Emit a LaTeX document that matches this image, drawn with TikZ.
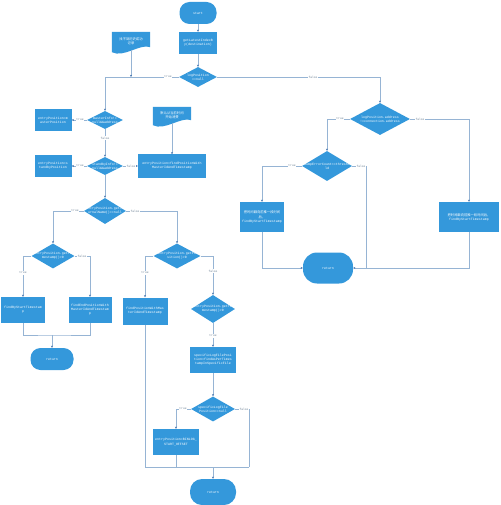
\documentclass[tikz,border=0pt]{standalone}
\usepackage{fontspec}
\setmainfont{Liberation Mono}
\newfontfamily\cjk{Noto Sans CJK SC}
\usetikzlibrary{shapes.geometric,arrows.meta,backgrounds,calc}
\definecolor{fb}{RGB}{52,152,219}
\definecolor{ln}{RGB}{150,180,212}
\definecolor{lt}{RGB}{110,130,150}
\definecolor{ah}{RGB}{60,110,170}
\tikzset{
  every node/.style={font=\fontsize{3.3}{4.1}\selectfont, text=white},
  box/.style={rectangle, fill=fb, inner sep=0.5pt, align=center},
  term/.style={rectangle, fill=fb, align=center, inner sep=0pt},
  dia/.style={diamond, fill=fb, inner sep=0pt},
  dtext/.style={text=white, align=center, inner sep=0pt},
  doc/.style={rectangle, align=center, inner sep=0pt},
  lbl/.style={fill=white, text=lt, inner sep=0.5pt, font=\fontsize{3}{3.5}\selectfont},
  con/.style={draw=ln, line width=0.5pt, -{Stealth[length=2.2pt,width=2pt,color=ah]}},
  seg/.style={draw=ln, line width=0.5pt},
}
\newcommand\docfill[1]{\fill[fb] (#1.north west) -- (#1.north east) -- ($(#1.south east)+(0,-3)$) .. controls ($(#1.south east)+(-10,-7)$) and ($(#1.south west)+(12,8)$) .. ($(#1.south west)+(0,2)$) -- cycle;}
\begin{document}
\begin{tikzpicture}[x=1pt,y=-1pt]
\useasboundingbox (0,0) rectangle (500,505);
% left / centre column
\node[term, minimum width=37pt, minimum height=22pt, rounded corners=10pt] (start) at (198,13) {start};
\node[box, minimum width=38pt, minimum height=22pt] (get) at (198,43) {getLatestIndexB\\y(destination)};
\node[dia, minimum width=38pt, minimum height=20pt, label={[dtext]center:{logPosition\\==null}}] (lp) at (198,77) {};
\node[doc, minimum width=38pt, minimum height=18pt] (doc1) at (131,41) {\cjk 找不到历史成功\\\cjk 记录};
\node[dia, minimum width=36pt, minimum height=18pt, label={[dtext]center:{masterInfo!=\\null\&\&address}}] (mi) at (105,120) {};
\node[box, minimum width=37pt, minimum height=22pt] (mp) at (53,120) {entryPosition=m\\asterPosition};
\node[dia, minimum width=36pt, minimum height=18pt, label={[dtext]center:{standbyInfo!=\\null\&\&address}}] (sb) at (105,166) {};
\node[box, minimum width=37pt, minimum height=22pt] (sp) at (53,166) {entryPosition=s\\tandbyPosition};
\node[doc, minimum width=38pt, minimum height=16pt] (doc2) at (172,115) {\cjk 默认从当前时间\\\cjk 开始消费};
\node[box, minimum width=68pt, minimum height=23pt] (fp) at (172,166) {entryPosition=findPositionWith\\MasterIdAndTimestamp};
\node[dia, minimum width=42pt, minimum height=26pt, label={[dtext]center:{entryPosition.getJo\\urnalName()==null}}] (jn) at (105,211) {};
\node[dia, minimum width=43pt, minimum height=25pt, label={[dtext]center:{entryPosition.getTi\\mestamp()>0}}] (ts1) at (53,256) {};
\node[box, minimum width=44pt, minimum height=26pt] (fbs) at (23,310) {findByStartTimestam\\p};
\node[box, minimum width=43pt, minimum height=26pt] (fep) at (90,310) {findEndPositionWith\\MasterIdAndTimestam\\p};
\node[term, minimum width=43pt, minimum height=22pt, rounded corners=10pt] (ret1) at (52,359) {return};
\node[dia, minimum width=47pt, minimum height=25pt, label={[dtext]center:{entryPosition.getPo\\sition()>0}}] (pos) at (177,256) {};
\node[box, minimum width=45pt, minimum height=27pt] (fpm) at (145,311) {findPositionWithMas\\terIdAndTimestamp};
\node[dia, minimum width=44pt, minimum height=28pt, label={[dtext]center:{entryPosition.getTi\\mestamp()>0}}] (ts2) at (213,309) {};
\node[box, minimum width=46pt, minimum height=26pt] (slp) at (213,360) {specificLogFilePosi\\tion=findAsPerTimes\\tampInSpecificFile};
\node[dia, minimum width=44pt, minimum height=25pt, label={[dtext]center:{specificLogFile\\Position==null}}] (sln) at (213,409) {};
\node[box, minimum width=46pt, minimum height=26pt] (bso) at (176,442) {entryPosition=BINLOG\_\\START\_OFFSET};
\node[term, minimum width=46pt, minimum height=26pt, rounded corners=12pt] (ret2) at (213,492) {return};
% right column
\node[dia, minimum width=60pt, minimum height=32pt, label={[dtext]center:{logPosition.address\\!=connection.address}}] (la) at (380,119) {};
\node[dia, minimum width=50pt, minimum height=30pt, label={[dtext]center:{dumpErrorCount<=thresho\\ld}}] (dec) at (327,166) {};
\node[box, minimum width=44pt, minimum height=30pt] (lbox) at (262,217) {{\cjk 把时间戳向前推一段时间}\\{\cjk 后，}\\findByStartTimestamp};
\node[box, minimum width=60pt, minimum height=30pt] (rbox) at (469,217) {{\cjk 把时间戳向前推一段时间后，}\\findByStartTimestamp};
\node[term, minimum width=50pt, minimum height=31pt, rounded corners=14pt] (ret3) at (328,268) {return};
% document shapes
\begin{scope}[on background layer]
\docfill{doc1}
\docfill{doc2}
\end{scope}
% connectors
\draw[con] (start) -- (get);
\draw[con] (get) -- (lp);
\draw[con] (doc1.south) -- (doc1.south |- lp.west);
\draw[con] (lp.west) -| (mi.north);
\draw[con] (lp.east) -| (la.north);
\draw[con] (mi.west) -- (mp.east);
\draw[con] (mi) -- (sb);
\draw[con] (sb.west) -- (sp.east);
\draw[con] (sb.east) -- (fp.west);
\draw[con] (doc2.south) -- (fp.north);
\draw[con] (sb) -- (jn);
\draw[con] (jn.west) -| (ts1.north);
\draw[con] (jn.east) -| (pos.north);
\draw[con] (ts1.west) -| (fbs.north);
\draw[con] (ts1.east) -| (fep.north);
\coordinate (j1) at (52,335);
\draw[seg] (fbs.south) |- (j1) -| (fep.south);
\draw[con] (j1) -- (ret1.north);
\draw[con] (pos.west) -| (fpm.north);
\draw[con] (pos.east) -| (ts2.north);
\draw[con] (ts2) -- (slp);
\draw[con] (slp) -- (sln);
\draw[con] (sln.west) -| (bso.north);
\coordinate (j2) at (213,467);
\coordinate (j2r) at (249,467);
\draw[seg] (sln.east) -| (j2r);
\draw[seg] (fpm.south) |- (j2r);
\draw[seg] (bso.south) -- (bso.south |- j2);
\draw[con] (j2) -- (ret2.north);
\draw[con] (la.west) -| (dec.north);
\draw[con] (la.east) -| (rbox.north);
\draw[con] (dec.west) -| (lbox.north);
\coordinate (j3) at (366,268);
\draw[seg] (dec.east) -| (j3);
\draw[con] (lbox.south) |- (ret3.west);
\draw[con] (rbox.south) |- (ret3.east);
% labels
\node[lbl] (l1) at (168,77) {true};
\node[lbl] (l2) at (313,77) {false};
\node[lbl] (l3) at (80,120) {true};
\node[lbl] (l4) at (105,138) {false};
\node[lbl] (l5) at (80,166) {true};
\node[lbl] (l6) at (131,166) {false};
\node[lbl] (l7) at (75,211) {true};
\node[lbl] (l8) at (135,211) {false};
\node[lbl] (l9) at (23,273) {true};
\node[lbl] (l10) at (82,256) {false};
\node[lbl] (l11) at (145,273) {true};
\node[lbl] (l12) at (213,271) {false};
\node[lbl] (l13) at (213,336) {true};
\node[lbl] (l14) at (183,409) {true};
\node[lbl] (l15) at (244,409) {false};
\node[lbl] (l16) at (340,119) {true};
\node[lbl] (l17) at (420,119) {false};
\node[lbl] (l18) at (292,166) {true};
\node[lbl] (l19) at (361,166) {false};
\end{tikzpicture}
\end{document}
